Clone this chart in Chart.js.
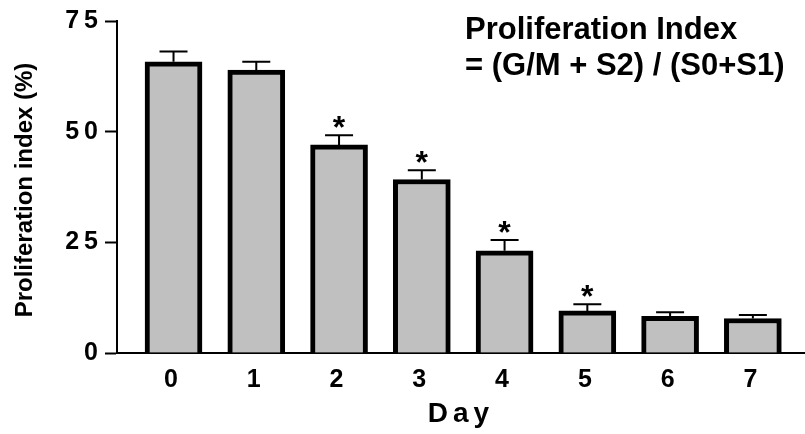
<!DOCTYPE html>
<html>
<head>
<meta charset="utf-8">
<script src="https://cdn.jsdelivr.net/npm/chart.js@4.4.1/dist/chart.umd.min.js"></script>
<style>
html, body { margin: 0; padding: 0; background: #fff; }
#wrap { width: 805px; height: 434px; }
</style>
</head>
<body>
<div id="wrap"><canvas id="prolifChart" width="805" height="434"></canvas></div>
<script>
const days = [0, 1, 2, 3, 4, 5, 6, 7];
const prolifIndex = [65.8, 63.9, 47.0, 39.2, 23.1, 9.5, 8.3, 7.8];
const prolifSem = [2.3, 1.9, 2.2, 2.1, 2.4, 1.5, 0.9, 0.8];
const signif = ['', '', '*', '*', '*', '*', '', ''];
const yTicks = [0, 25, 50, 75];
const titleLines = ['Proliferation Index', '= (G/M + S2) / (S0+S1)'];

const FONT = "'Liberation Sans', Arial, sans-serif";
Chart.defaults.font.family = FONT;
Chart.defaults.color = '#000';

// error bars, asterisks and the text drawn over the plot
const extras = {
  id: 'extras',
  beforeDraw(chart) {
    chart.ctx.letterSpacing = '5px';
  },
  afterDatasetsDraw(chart) {
    const ctx = chart.ctx;
    const y = chart.scales.y;
    const meta = chart.getDatasetMeta(0);
    ctx.letterSpacing = '0px';
    ctx.save();
    ctx.strokeStyle = '#000';
    ctx.fillStyle = '#000';
    ctx.lineWidth = 2;
    meta.data.forEach((bar, i) => {
      const top = y.getPixelForValue(prolifIndex[i] + prolifSem[i]);
      ctx.beginPath();
      ctx.moveTo(bar.x, bar.y);
      ctx.lineTo(bar.x, top);
      ctx.moveTo(bar.x - 14, top);
      ctx.lineTo(bar.x + 14, top);
      ctx.stroke();
      if (signif[i]) {
        ctx.font = 'bold 32px ' + FONT;
        ctx.textAlign = 'center';
        ctx.textBaseline = 'alphabetic';
        ctx.fillText(signif[i], bar.x, top + 3);
      }
    });
    ctx.restore();
  },
  afterDraw(chart) {
    const ctx = chart.ctx;
    ctx.save();
    ctx.letterSpacing = '0px';
    ctx.fillStyle = '#000';
    ctx.font = 'bold 31px ' + FONT;
    ctx.textAlign = 'left';
    ctx.textBaseline = 'alphabetic';
    ctx.fillText(titleLines[0], 465, 39);
    ctx.fillText(titleLines[1], 465, 75);

    ctx.font = 'bold 24px ' + FONT;
    ctx.textAlign = 'center';
    ctx.translate(32, 190);
    ctx.rotate(-Math.PI / 2);
    ctx.fillText('Proliferation index (%)', 0, 0);
    ctx.restore();
  }
};

const ctx = document.getElementById('prolifChart').getContext('2d');
new Chart(ctx, {
  type: 'bar',
  data: {
    datasets: [{
      data: days.map((d, i) => ({ x: d, y: prolifIndex[i] })),
      backgroundColor: '#c0c0c0',
      borderColor: '#000',
      borderWidth: 5,
      borderSkipped: 'start',
      barThickness: 57
    }]
  },
  options: {
    responsive: false,
    animation: false,
    layout: { padding: { top: 21, right: 0, left: 0, bottom: 0 } },
    plugins: { legend: { display: false }, tooltip: { enabled: false } },
    scales: {
      x: {
        type: 'linear',
        offset: false,
        min: -0.683,
        max: 7.63,
        afterBuildTicks: axis => { axis.ticks = days.map(v => ({ value: v })); },
        afterFit: scale => { scale.height = 81; },
        grid: { display: false, drawTicks: false },
        border: { color: '#000', width: 2 },
        ticks: { color: '#000', font: { size: 25, weight: 'bold' }, padding: 12, autoSkip: false, maxRotation: 0 },
        title: { display: true, text: 'Day', color: '#000', font: { size: 28, weight: 'bold' }, padding: { top: 0, bottom: 3 } }
      },
      y: {
        min: 0,
        max: 75,
        afterBuildTicks: axis => { axis.ticks = yTicks.map(v => ({ value: v })); },
        afterFit: scale => { scale.width = 117; },
        grid: { drawOnChartArea: false, drawTicks: true, tickLength: 12, tickWidth: 2, tickColor: '#000' },
        border: { color: '#000', width: 2 },
        ticks: { color: '#000', font: { size: 25, weight: 'bold' }, padding: 2 }
      }
    }
  },
  plugins: [extras]
});
</script>
</body>
</html>
